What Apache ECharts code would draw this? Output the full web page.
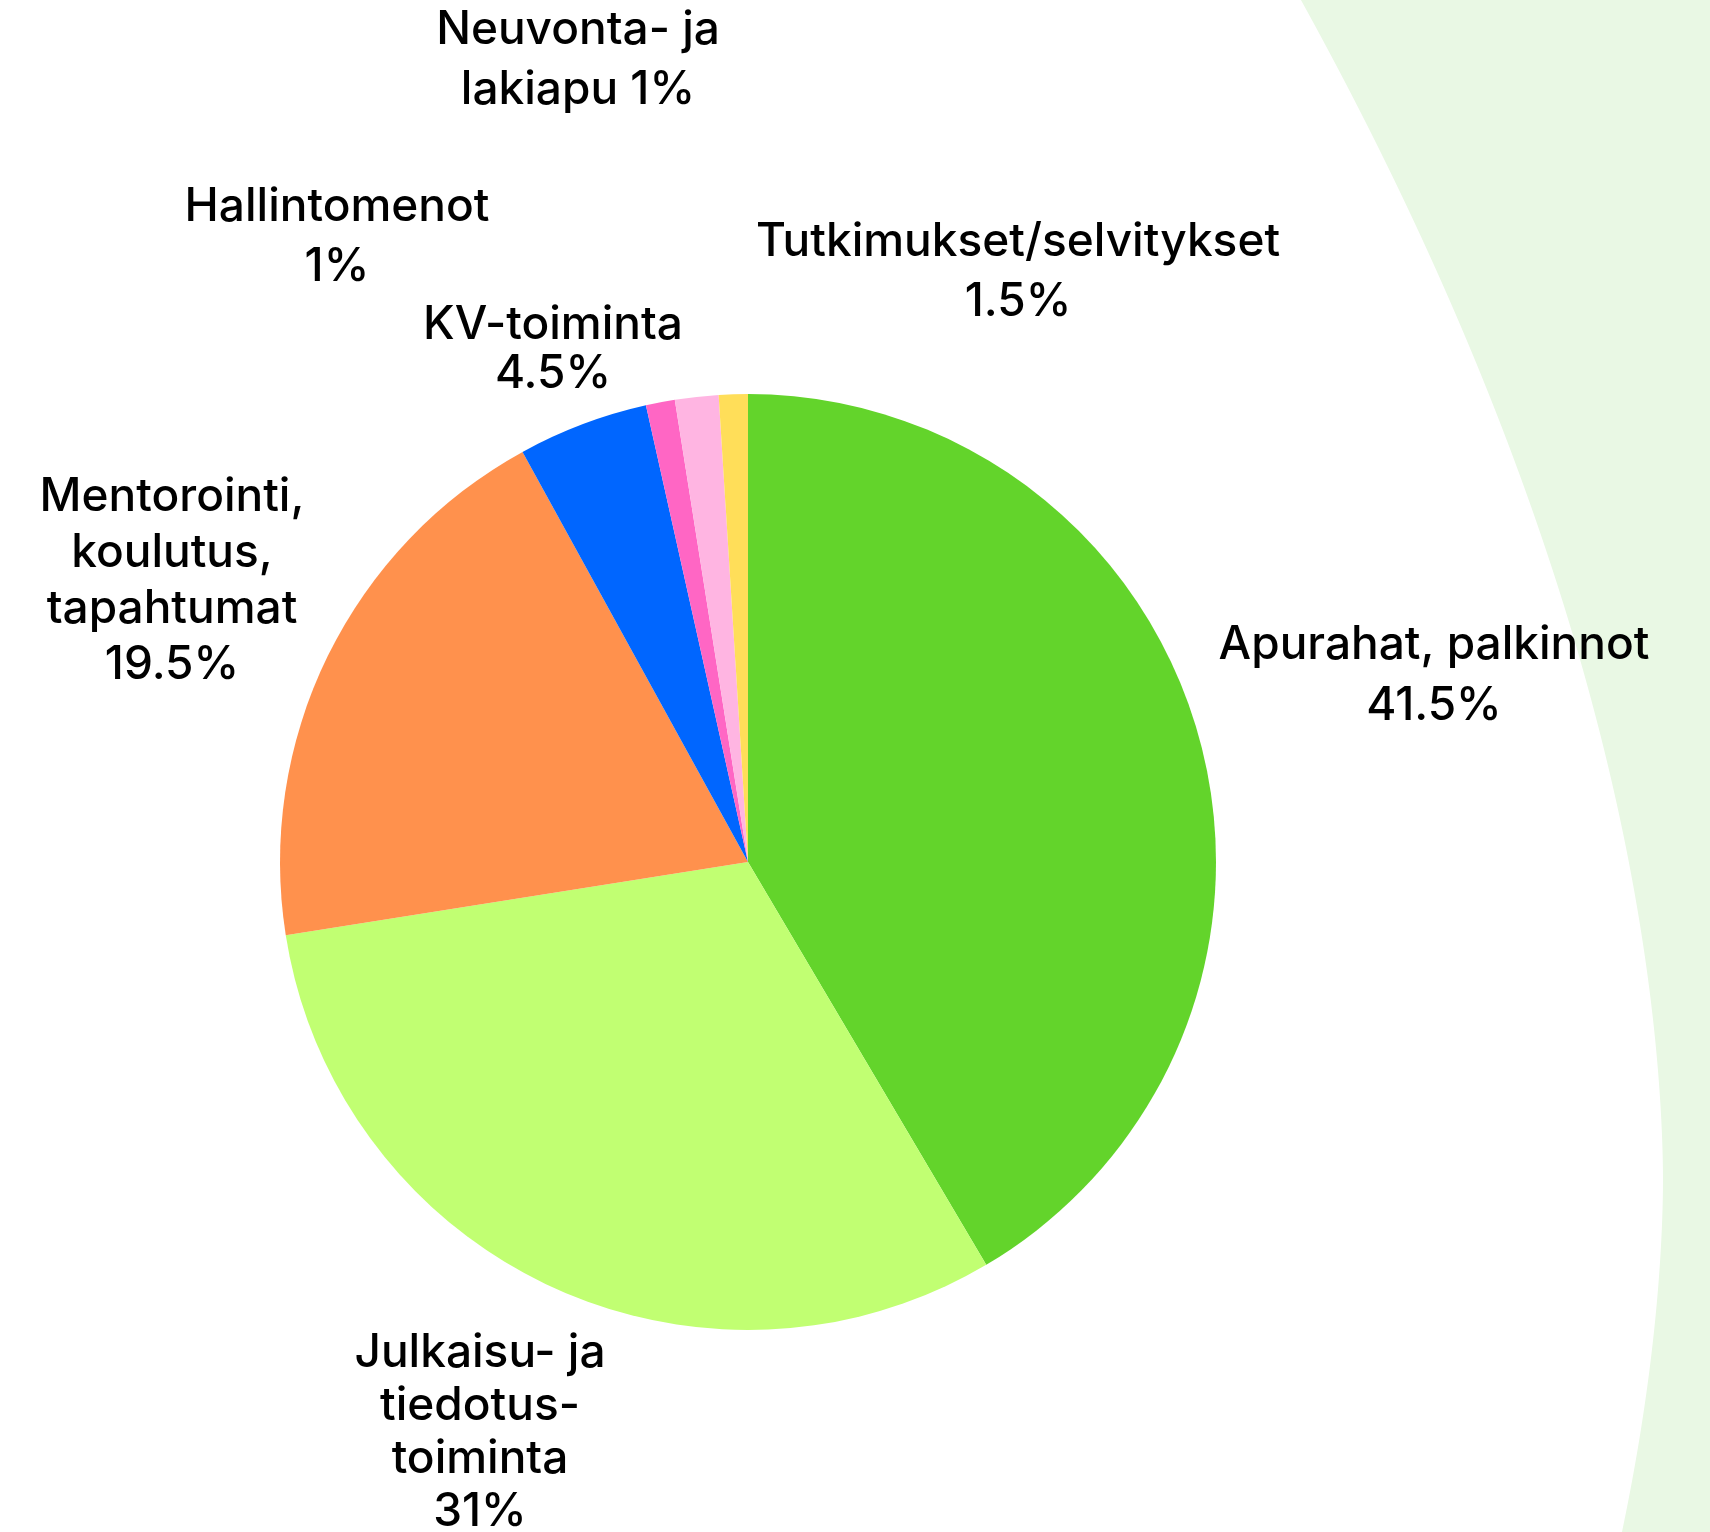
<!DOCTYPE html>
<html>
<head>
<meta charset="utf-8">
<title>Budjetin jakauma</title>
<script src="https://cdn.jsdelivr.net/npm/echarts@6/dist/echarts.min.js"></script>
<style>
  html, body { margin: 0; padding: 0; background: #ffffff; }
  #chart { width: 1710px; height: 1532px; }
</style>
</head>
<body>
<div id="chart"></div>
<script>
// osuudet prosentteina
const categories = [
  "Apurahat, palkinnot",
  "Julkaisu- ja\ntiedotus-\ntoiminta",
  "Mentorointi,\nkoulutus,\ntapahtumat",
  "KV-toiminta",
  "Hallintomenot",
  "Tutkimukset/selvitykset",
  "Neuvonta- ja\nlakiapu"
];
const values = [41.5, 31, 19.5, 4.5, 1, 1.5, 1];

const colors = ["#63d42b", "#c1ff72", "#ff914d", "#0066ff", "#ff66c4", "#ffb5e2", "#ffde59"];

// label centres (px) and line heights
const labelPos = [
  [1434, 676], [480, 1433], [172, 581], [553, 350], [337, 237], [1018, 272], [578, 60]
];
const lineHeights = [61, 53, 56, 49, 60, 60, 60];

// light green backdrop edge
function backdrop() {
  let pts = [];
  for (let y = -10; y <= 1545; y += 10) {
    let x = 1663 - 0.00107 * Math.pow(Math.abs(y - 1180), 1.8);
    pts.push([x, y]);
  }
  pts.push([1720, 1545]);
  pts.push([1720, -10]);
  return pts;
}

let myChart = echarts.init(document.getElementById("chart"));
myChart.setOption({
  backgroundColor: "#ffffff",
  animation: false,
  graphic: [
    {
      type: "polygon",
      z: -10,
      silent: true,
      shape: { points: backdrop() },
      style: { fill: "#e9f8e4" }
    }
  ],
  series: [
    {
      type: "pie",
      center: [748, 862],
      radius: 468,
      startAngle: 90,
      clockwise: true,
      avoidLabelOverlap: false,
      label: {
        show: true,
        position: "outside",
        color: "#000000",
        fontFamily: "Inter",
        fontWeight: 500,
        fontSize: 46,
        align: "center"
      },
      labelLine: { show: false },
      labelLayout: function (params) {
        let p = labelPos[params.dataIndex];
        return { x: p[0], y: p[1], align: "center", verticalAlign: "middle" };
      },
      itemStyle: { borderWidth: 0 },
      emphasis: { disabled: true },
      data: categories.map(function (name, i) {
        return {
          name: name,
          value: values[i],
          itemStyle: { color: colors[i] },
          label: {
            formatter: i === 6 ? "{b} {c}%" : "{b}\n{c}%",
            lineHeight: lineHeights[i]
          }
        };
      })
    }
  ]
});
</script>
</body>
</html>
